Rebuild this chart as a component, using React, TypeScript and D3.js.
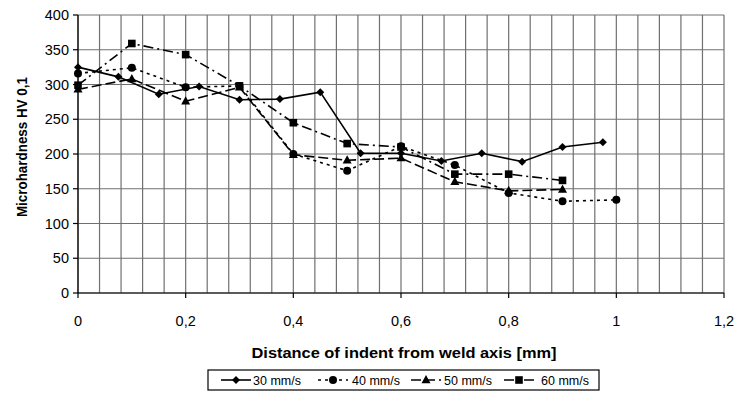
import React from "react";
import * as d3 from "d3";

const x30 = [0, 0.075, 0.15, 0.225, 0.3, 0.375, 0.45, 0.525, 0.6, 0.675, 0.75, 0.825, 0.9, 0.975];
const y30 = [325, 311, 286, 297, 278, 279, 289, 201, 201, 190, 201, 189, 210, 217];
const x40 = [0, 0.1, 0.2, 0.3, 0.4, 0.5, 0.6, 0.7, 0.8, 0.9, 1.0];
const y40 = [316, 324, 296, 298, 200, 176, 211, 184, 144, 132, 134];
const x50 = [0, 0.1, 0.2, 0.3, 0.4, 0.5, 0.6, 0.7, 0.8, 0.9];
const y50 = [293, 308, 276, 296, 199, 191, 194, 160, 147, 149];
const x60 = [0, 0.1, 0.2, 0.3, 0.4, 0.5, 0.6, 0.7, 0.8, 0.9];
const y60 = [299, 359, 343, 298, 245, 215, 210, 171, 171, 162];
const seriesNames = ["30 mm/s", "40 mm/s", "50 mm/s", "60 mm/s"];
const yTicks = [0, 50, 100, 150, 200, 250, 300, 350, 400];
const xTicks = [0, 0.2, 0.4, 0.6, 0.8, 1.0, 1.2];

const FONT = "'Liberation Sans', Arial, sans-serif";

type Kind = "diamond" | "circle" | "triangle" | "square";

function Marker({ kind, cx, cy }: { kind: Kind; cx: number; cy: number }) {
  if (kind === "circle") return <circle cx={cx} cy={cy} r={4} fill="#000" />;
  if (kind === "square") return <rect x={cx - 3.8} y={cy - 3.8} width={7.6} height={7.6} fill="#000" />;
  if (kind === "triangle")
    return <path d={`M${cx},${cy - 5}L${cx + 4.5},${cy + 3.2}L${cx - 4.5},${cy + 3.2}Z`} fill="#000" />;
  return <path d={`M${cx},${cy - 4}L${cx + 4},${cy}L${cx},${cy + 4}L${cx - 4},${cy}Z`} fill="#000" />;
}

export default function App() {
  const W = 737, H = 393;
  const x = d3.scaleLinear().domain([0, 1.2]).range([78, 724]);
  const y = d3.scaleLinear().domain([0, 400]).range([293, 15]);
  const line = d3.line<[number, number]>().x(d => x(d[0])).y(d => y(d[1]));

  const series = [
    { xs: x30, ys: y30, kind: "diamond" as Kind, dash: "none" },
    { xs: x40, ys: y40, kind: "circle" as Kind, dash: "3,4" },
    { xs: x50, ys: y50, kind: "triangle" as Kind, dash: "10,4" },
    { xs: x60, ys: y60, kind: "square" as Kind, dash: "10,4,2,4" },
  ];

  const vGrid = d3.range(0, 31).map(i => i * 0.04);

  const legendItems = [
    { lx: 221, tx: 253 },
    { lx: 318, tx: 352 },
    { lx: 411, tx: 444 },
    { lx: 504, tx: 541 },
  ];

  return (
    <svg width={W} height={H} style={{ position: "absolute", left: 0, top: 0, background: "#fff" }}>
      <rect width={W} height={H} fill="#fff" />
      {vGrid.map((v, i) => (
        <line key={"v" + i} x1={x(v)} x2={x(v)} y1={y(400)} y2={y(0)} stroke="#707070" strokeWidth={1.2} />
      ))}
      {yTicks.map(t => (
        <line key={"h" + t} x1={x(0)} x2={x(1.2)} y1={y(t)} y2={y(t)} stroke="#707070" strokeWidth={1.2} />
      ))}
      <line x1={x(0)} x2={x(0)} y1={y(400)} y2={y(0)} stroke="#000" strokeWidth={1.2} />
      <line x1={x(0)} x2={x(1.2)} y1={y(0)} y2={y(0)} stroke="#000" strokeWidth={1.2} />
      {yTicks.map(t => (
        <g key={"yt" + t}>
          <line x1={x(0) - 5} x2={x(0)} y1={y(t)} y2={y(t)} stroke="#000" strokeWidth={1.2} />
          <text x={x(0) - 9} y={y(t)} dy="0.36em" textAnchor="end" fontFamily={FONT} fontSize={14.5}>
            {t}
          </text>
        </g>
      ))}
      {xTicks.map(t => (
        <g key={"xt" + t}>
          <line x1={x(t)} x2={x(t)} y1={y(0)} y2={y(0) + 5} stroke="#000" strokeWidth={1.2} />
          <text x={x(t)} y={y(0) + 33} textAnchor="middle" fontFamily={FONT} fontSize={14.5}>
            {String(+t.toFixed(1)).replace(".", ",")}
          </text>
        </g>
      ))}
      <text
        x={404}
        y={358}
        textAnchor="middle"
        fontFamily={FONT}
        fontSize={15}
        fontWeight="bold"
        textLength={305}
        lengthAdjust="spacingAndGlyphs"
      >
        Distance of indent from weld axis [mm]
      </text>
      <text
        transform={`translate(27,${y(210)}) rotate(-90)`}
        textAnchor="middle"
        fontFamily={FONT}
        fontSize={14}
        fontWeight="bold"
        textLength={140}
        lengthAdjust="spacingAndGlyphs"
      >
        Microhardness HV 0,1
      </text>
      {series.map((s, si) => {
        const pts = s.xs.map((v, i) => [v, s.ys[i]] as [number, number]);
        return (
          <g key={"s" + si}>
            <path d={line(pts) || ""} fill="none" stroke="#000" strokeWidth={1.6} strokeDasharray={s.dash} />
            {pts.map((p, i) => (
              <Marker key={i} kind={s.kind} cx={x(p[0])} cy={y(p[1])} />
            ))}
          </g>
        );
      })}
      <rect x={208} y={370} width={391} height={20} fill="#fff" stroke="#000" strokeWidth={1.2} />
      {series.map((s, si) => {
        const it = legendItems[si];
        return (
          <g key={"l" + si}>
            <line x1={it.lx} x2={it.lx + 30} y1={380} y2={380} stroke="#000" strokeWidth={1.6} strokeDasharray={s.dash} />
            <Marker kind={s.kind} cx={it.lx + 15} cy={380} />
            <text x={it.tx} y={380} dy="0.36em" fontFamily={FONT} fontSize={12.5}>
              {seriesNames[si]}
            </text>
          </g>
        );
      })}
    </svg>
  );
}
